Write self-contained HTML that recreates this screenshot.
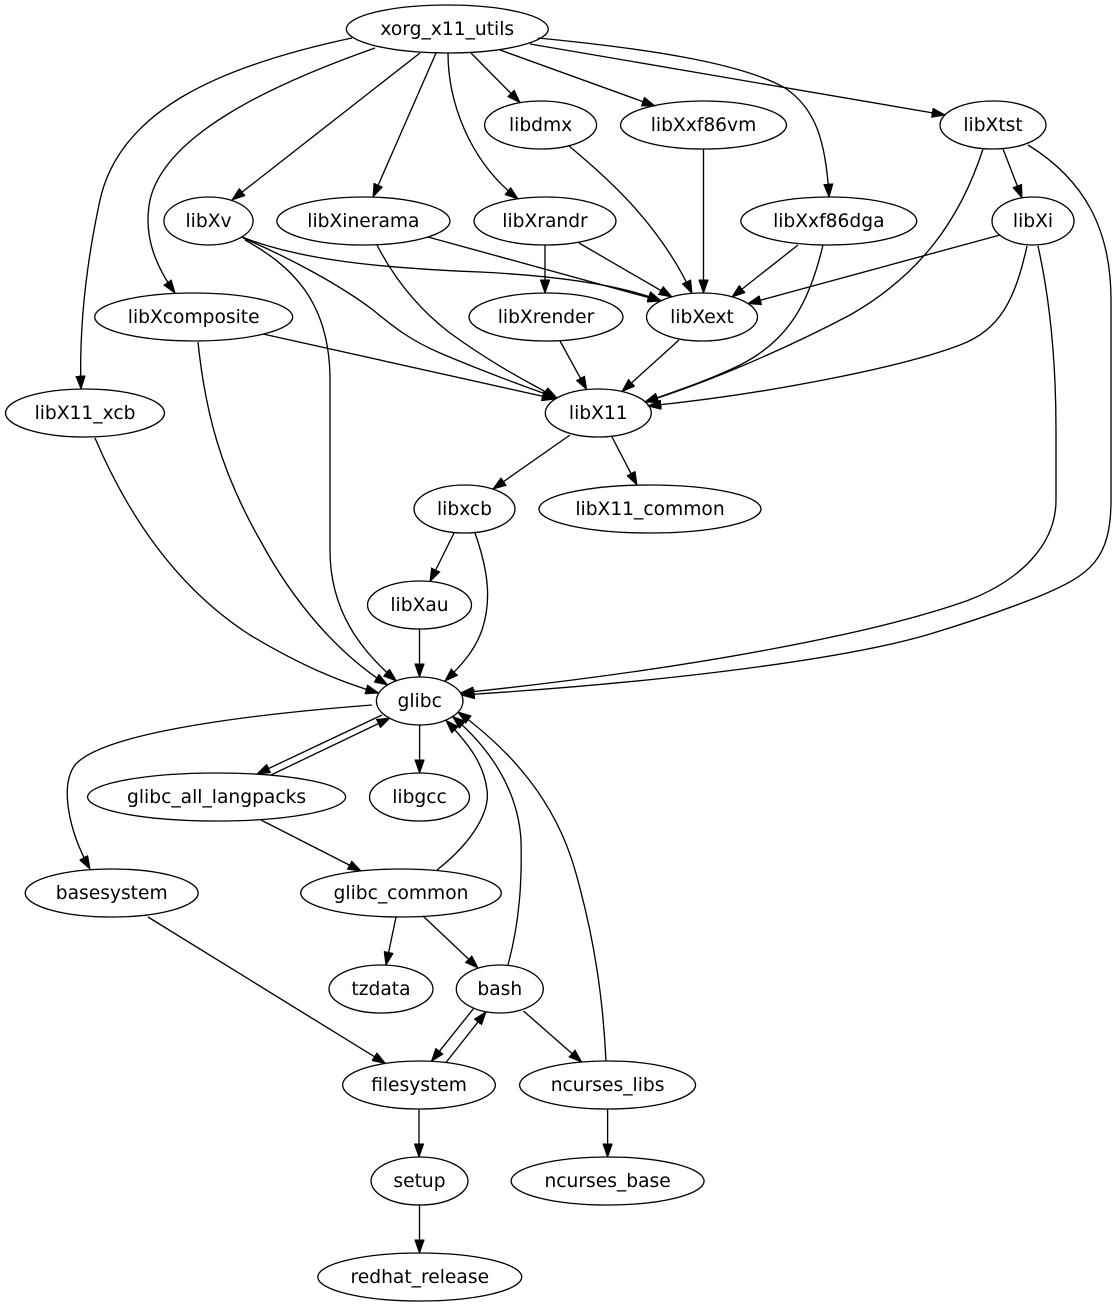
<!DOCTYPE html>
<html><head><meta charset="utf-8"><style>
html,body{margin:0;padding:0;background:#fff;}
svg{display:block;}
text{font-family:"DejaVu Sans","Liberation Sans",sans-serif;font-size:18.67px;text-anchor:middle;fill:#000;}
ellipse{fill:none;stroke:#000;stroke-width:1.33;}
path.e{fill:none;stroke:#000;stroke-width:1.33;marker-end:url(#a);}
</style></head><body>
<svg width="1118" height="1307" viewBox="0 0 1118 1307" xmlns="http://www.w3.org/2000/svg">
<defs><marker id="a" markerWidth="14" markerHeight="10" refX="13.3" refY="5" orient="auto" markerUnits="userSpaceOnUse"><path d="M0,0.3 L13.3,5 L0,9.7 z" fill="#000" stroke="#000" stroke-width="1"/></marker></defs>
<rect width="1118" height="1307" fill="#fff"/>
<!-- edges -->
<path class="e" d="M352,38 C220,66 120,110 100,200 C86,265 79,330 81,389"/>
<path class="e" d="M375,48 C270,85 165,135 150,200 C143,235 155,265 175,293"/>
<path class="e" d="M420,53 L232,200"/>
<path class="e" d="M436,53 L373,197"/>
<path class="e" d="M448,53 C448,100 468,160 518,199"/>
<path class="e" d="M471,53 L520,102.5"/>
<path class="e" d="M500,50 L655,106"/>
<path class="e" d="M538,38 C640,48 740,62 785,88 C815,108 826,140 829,197"/>
<path class="e" d="M530,44 L945,115"/>
<path class="e" d="M569,146 C610,180 660,225 692,293.5"/>
<path class="e" d="M703.5,149 L703.5,293"/>
<path class="e" d="M1003,149 L1022,198"/>
<path class="e" d="M983,149 C960,220 920,275 850,315 C780,352 700,385 645,402"/>
<path class="e" d="M1028,145 C1085,180 1111,230 1111,300 L1111,500 C1111,560 1090,575 1040,596 C1000,612 960,625 930,634 C860,655 700,680 461.5,695"/>
<path class="e" d="M1000,235 L748,303.6"/>
<path class="e" d="M1027,246 C1015,300 1000,330 960,345 C900,368 760,395 648,406"/>
<path class="e" d="M1038,246 C1050,300 1056,360 1056,430 L1056,500 C1056,545 1020,580 969,600 C880,632 700,668 460.5,693"/>
<path class="e" d="M242,237 C300,260 380,268 480,272 C560,276 620,285 661,300.8"/>
<path class="e" d="M243,238 C290,258 340,285 373,310 C395,328 410,340 440,353 C480,370 520,385 557,398"/>
<path class="e" d="M245,240 C290,265 330,300 330,380 L330,550 C330,610 360,650 396.4,681"/>
<path class="e" d="M428,237 L661,301"/>
<path class="e" d="M377,245 C395,280 420,310 450,333 C490,362 520,378 557,398"/>
<path class="e" d="M545,245 L545,293"/>
<path class="e" d="M579,243 L672,297"/>
<path class="e" d="M798,245 L732,297"/>
<path class="e" d="M823,245 C810,300 790,340 740,365 C710,380 670,393 645,402"/>
<path class="e" d="M263,334 L555,399"/>
<path class="e" d="M198,342 C205,410 220,470 260,540 C295,605 340,655 387.5,685"/>
<path class="e" d="M560,341 L586.7,389.6"/>
<path class="e" d="M679,340 L622,391.5"/>
<path class="e" d="M95,438 C130,520 180,590 250,635 C300,665 340,682 378.6,693"/>
<path class="e" d="M570,435 L493,489"/>
<path class="e" d="M612,437 L637,485"/>
<path class="e" d="M454,533 L430,581.5"/>
<path class="e" d="M475,533 C488,570 492,600 482,630 C475,650 462,665 445,681"/>
<path class="e" d="M419.5,629 L419.5,677"/>
<path class="e" d="M372,705 C230,716 100,735 75,765 C60,785 68,830 90,869"/>
<path class="e" d="M382,715 L257,774"/>
<path class="e" d="M271,775 L390,718"/>
<path class="e" d="M419.6,725 L419.6,773"/>
<path class="e" d="M261,820 L361,871"/>
<path class="e" d="M437,870 C475,840 490,810 487,790 C484,765 470,745 446,720.5"/>
<path class="e" d="M396,917 L386,965"/>
<path class="e" d="M423,916 L478,968"/>
<path class="e" d="M508,965 C520,920 522,880 521,840 C518,790 490,748 452.5,716.5"/>
<path class="e" d="M474,1008 L431.4,1061.3"/>
<path class="e" d="M446,1062.5 L486,1011.8"/>
<path class="e" d="M523.5,1011 L581.7,1062"/>
<path class="e" d="M606,1061 C603,1000 595,940 575,870 C555,800 510,750 458,712"/>
<path class="e" d="M148,917 L385.4,1063.5"/>
<path class="e" d="M419,1109 L419,1157"/>
<path class="e" d="M607.6,1109 L607.6,1157"/>
<path class="e" d="M419.5,1205 L419.5,1253"/>
<!-- nodes -->
<ellipse cx="447.3" cy="29" rx="101" ry="24"/><text x="447.3" y="35">xorg_x11_utils</text>
<ellipse cx="540.6" cy="125" rx="56" ry="24"/><text x="540.6" y="131">libdmx</text>
<ellipse cx="703.5" cy="125" rx="83" ry="24"/><text x="703.5" y="131">libXxf86vm</text>
<ellipse cx="993" cy="125" rx="53" ry="24"/><text x="993" y="131">libXtst</text>
<ellipse cx="208.5" cy="221" rx="44.6" ry="24"/><text x="208.5" y="227">libXv</text>
<ellipse cx="363.4" cy="221" rx="86.6" ry="24"/><text x="363.4" y="227">libXinerama</text>
<ellipse cx="545" cy="221" rx="71" ry="24"/><text x="545" y="227">libXrandr</text>
<ellipse cx="828.8" cy="221" rx="88" ry="24"/><text x="828.8" y="227">libXxf86dga</text>
<ellipse cx="1033" cy="221" rx="41" ry="24"/><text x="1033" y="227">libXi</text>
<ellipse cx="193.7" cy="317" rx="99" ry="24"/><text x="193.7" y="323">libXcomposite</text>
<ellipse cx="546" cy="317" rx="77" ry="24"/><text x="546" y="323">libXrender</text>
<ellipse cx="702" cy="317" rx="55.5" ry="24"/><text x="702" y="323">libXext</text>
<ellipse cx="85" cy="413" rx="79.5" ry="24"/><text x="85" y="419">libX11_xcb</text>
<ellipse cx="598.3" cy="413" rx="53" ry="24"/><text x="598.3" y="419">libX11</text>
<ellipse cx="464.5" cy="509" rx="50.5" ry="24"/><text x="464.5" y="515">libxcb</text>
<ellipse cx="650" cy="509" rx="111" ry="24"/><text x="650" y="515">libX11_common</text>
<ellipse cx="419.5" cy="605" rx="52" ry="24"/><text x="419.5" y="611">libXau</text>
<ellipse cx="419.7" cy="701" rx="43.3" ry="24"/><text x="419.7" y="707">glibc</text>
<ellipse cx="216.6" cy="797" rx="129" ry="24"/><text x="216.6" y="803">glibc_all_langpacks</text>
<ellipse cx="419.5" cy="797" rx="50" ry="24"/><text x="419.5" y="803">libgcc</text>
<ellipse cx="111.7" cy="893" rx="86.5" ry="24"/><text x="111.7" y="899">basesystem</text>
<ellipse cx="401" cy="893" rx="100.3" ry="24"/><text x="401" y="899">glibc_common</text>
<ellipse cx="381" cy="989" rx="52" ry="24"/><text x="381" y="995">tzdata</text>
<ellipse cx="499.8" cy="989" rx="43.5" ry="24"/><text x="499.8" y="995">bash</text>
<ellipse cx="419" cy="1085" rx="76.4" ry="24"/><text x="419" y="1091">filesystem</text>
<ellipse cx="607.6" cy="1085" rx="88" ry="24"/><text x="607.6" y="1091">ncurses_libs</text>
<ellipse cx="419.5" cy="1181" rx="48.5" ry="24"/><text x="419.5" y="1187">setup</text>
<ellipse cx="607.6" cy="1181" rx="96.5" ry="24"/><text x="607.6" y="1187">ncurses_base</text>
<ellipse cx="419.8" cy="1277" rx="102" ry="24"/><text x="419.8" y="1283">redhat_release</text>
</svg>
</body></html>
